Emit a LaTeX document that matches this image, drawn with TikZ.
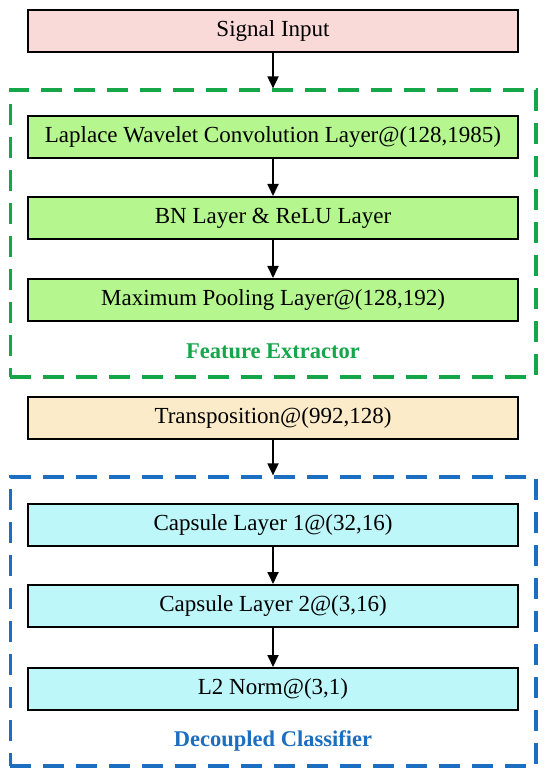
\documentclass[tikz,border=0pt]{standalone}
\usepackage{fontspec}
\setmainfont{Liberation Serif}
\usepackage{tikz}
\usetikzlibrary{arrows.meta, positioning, fit, calc}
\definecolor{colorEntrada}{HTML}{F9DAD9}
\definecolor{colorExtractor}{HTML}{B5F78E}
\definecolor{colorTrans}{HTML}{FCEBC9}
\definecolor{colorCapsula}{HTML}{BEF7FA}
\definecolor{verdeMarco}{HTML}{16A64A}
\definecolor{azulMarco}{HTML}{1C6EC0}

\begin{document}
\begin{tikzpicture}[
        node distance=38pt,
        l/.style={draw=black, line width=1.8pt, minimum width=490pt, minimum height=42.2pt,
            inner sep=0pt, font=\fontsize{23}{27}\selectfont},
        grupo/.style={dashed, line width=3.2pt, dash pattern=on 21pt off 12pt, inner sep=0pt},
        etq/.style={font=\fontsize{22.5}{27}\selectfont\bfseries, inner sep=0pt},
        rel/.style={-{Triangle[length=12pt, width=11pt]}, line width=1.8pt}
    ]
        \useasboundingbox (0,0) rectangle (550pt,-775pt);
        \node[l, fill=colorEntrada] (sig) at (273pt,-31pt) {Signal Input};
        \node[l, fill=colorExtractor, below=62pt of sig] (lap) {Laplace Wavelet Convolution Layer@(128,1985)};
        \node[l, fill=colorExtractor, below=37pt of lap] (bn) {BN Layer \& ReLU Layer};
        \node[l, fill=colorExtractor, below=of bn] (mp) {Maximum Pooling Layer@(128,192)};
        \node[etq, text=verdeMarco] (felab) at ($(mp.south)+(0,-29pt)$) {Feature Extractor};
        \node[l, fill=colorTrans, below=74pt of mp] (tr) {Transposition@(992,128)};
        \node[l, fill=colorCapsula, below=63pt of tr] (c1) {Capsule Layer 1@(32,16)};
        \node[l, fill=colorCapsula, below=37pt of c1] (c2) {Capsule Layer 2@(3,16)};
        \node[l, fill=colorCapsula, below=39pt of c2] (l2) {L2 Norm@(3,1)};
        \node[etq, text=azulMarco] (dclab) at ($(l2.south)+(0,-30pt)$) {Decoupled Classifier};
        % marcos punteados
        \coordinate (fexA) at ($(lap.north west)+(-17pt,25pt)$);
        \coordinate (fexB) at ($(mp.south east)+(17pt,-55pt)$);
        \coordinate (dclA) at ($(c1.north west)+(-17pt,26pt)$);
        \coordinate (dclB) at ($(l2.south east)+(17pt,-55pt)$);
        \node[grupo, draw=verdeMarco, fit=(fexA) (fexB)] (fex) {};
        \node[grupo, draw=azulMarco, fit=(dclA) (dclB)] (dcl) {};
        \draw[rel] (sig) -- (fex.north); \draw[rel] (lap) -- (bn); \draw[rel] (bn) -- (mp);
        \draw[rel] (tr) -- (dcl.north); \draw[rel] (c1) -- (c2); \draw[rel] (c2) -- (l2);
    \end{tikzpicture}
\end{document}
